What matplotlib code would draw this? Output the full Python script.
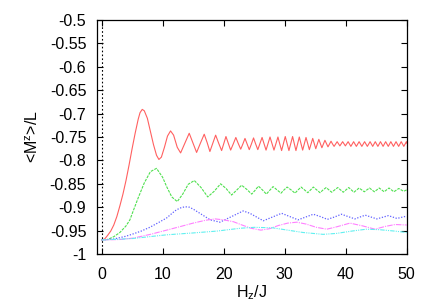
import matplotlib
matplotlib.use("Agg")
import matplotlib.pyplot as plt

plt.rcParams['font.family'] = ['Liberation Sans', 'DejaVu Sans']
plt.rcParams['font.size'] = 11.5
plt.rcParams['mathtext.fontset'] = 'custom'
plt.rcParams['mathtext.rm'] = 'Liberation Sans'
plt.rcParams['mathtext.it'] = 'Liberation Sans:italic'

# values (H_z/J, <M^z>/L)
red_x = [0, 0.5, 1, 1.5, 2, 2.5, 3, 3.5, 4, 4.5, 5, 5.5, 6, 6.3, 6.66, 7.0, 7.5, 8, 8.5, 9, 9.39,
         9.8, 10.3, 10.8, 11.3, 11.8, 12.4, 12.95, 13.65, 14.36, 14.95, 15.57, 16.2, 16.82, 17.3,
         17.75, 18.2,
         18.69, 19.18, 19.67, 20.02, 20.38, 20.77, 21.15, 21.57, 22.0, 22.4,
         22.8, 23.15, 23.5, 23.85, 24.2, 24.55, 24.9, 25.25, 25.6, 25.95,
         26.3, 26.62, 26.95, 27.27, 27.6, 27.92, 28.25, 28.57, 28.9, 29.2,
         29.5, 29.8, 30.1, 30.4, 30.7, 31.0, 31.3, 31.57, 31.85, 32.12,
         32.4, 32.67, 32.95, 33.22, 33.5, 33.77, 34.05, 34.32, 34.6, 34.85,
         35.1, 35.35, 35.6, 35.85, 36.1, 36.35, 36.6, 36.85, 37.1, 37.35,
         37.6, 37.85, 38.1,
         38.6, 39.05, 39.5, 39.95, 40.4, 40.85, 41.3, 41.75, 42.2, 42.65, 43.1, 43.55, 44.0,
         44.43, 44.85, 45.28, 45.7, 46.13, 46.55, 46.98, 47.4, 47.83, 48.25, 48.68, 49.1, 49.53,
         49.95, 50]
red_y = [-0.970, -0.968, -0.960, -0.951, -0.938, -0.920, -0.897, -0.872, -0.843, -0.810, -0.775,
         -0.742, -0.712, -0.698, -0.691, -0.694, -0.710, -0.738, -0.766, -0.789, -0.798,
         -0.793, -0.772, -0.748, -0.737, -0.746, -0.772, -0.784, -0.763, -0.742, -0.762, -0.783,
         -0.763, -0.744, -0.762, -0.781, -0.764,
         -0.746, -0.763, -0.779, -0.764, -0.749, -0.764, -0.778, -0.765, -0.751, -0.764,
         -0.776, -0.765, -0.753, -0.765, -0.777, -0.765, -0.752, -0.765, -0.777, -0.764,
         -0.751, -0.764, -0.778, -0.764, -0.750, -0.764, -0.778, -0.764, -0.750, -0.765,
         -0.779, -0.764, -0.749, -0.764, -0.779, -0.764, -0.749, -0.764, -0.779, -0.765,
         -0.750, -0.764, -0.778, -0.765, -0.751, -0.764, -0.777, -0.765, -0.753, -0.764,
         -0.775, -0.765, -0.755, -0.764, -0.773, -0.765, -0.757, -0.764, -0.771, -0.765,
         -0.759, -0.765, -0.770,
         -0.760, -0.769, -0.760, -0.769, -0.760, -0.770, -0.760, -0.770, -0.760, -0.770,
         -0.760, -0.770, -0.760, -0.770, -0.760, -0.770, -0.760, -0.770, -0.760, -0.770,
         -0.760, -0.770, -0.760, -0.770, -0.760, -0.770, -0.760, -0.763]

green_x = [0, 1, 2, 3, 4, 4.64, 5.18, 6, 7, 8, 9, 10, 10.66, 11.5, 12.4, 13.3, 14.2, 15.2, 16.3,
           17.4, 18.45, 19.5, 20.4, 21.3, 22.1, 22.95, 23.8, 24.6, 25.15, 25.7, 26.35, 27.0,
           27.55, 28.1, 28.75, 29.4, 29.9, 30.4, 31.05, 31.7, 32.2, 32.7, 33.25, 33.8, 34.25,
           34.7, 35.25, 35.8, 36.3, 36.8, 37.7, 38.7, 39.6, 40.5, 41.35, 42.2, 43.05, 43.9,
           44.7, 45.5, 46.3, 47.1, 47.9, 48.7, 49.5, 50]
green_y = [-0.970, -0.969, -0.963, -0.954, -0.940, -0.927, -0.908, -0.880, -0.848, -0.824, -0.817,
           -0.836, -0.856, -0.878, -0.888, -0.872, -0.851, -0.843, -0.858, -0.878, -0.866, -0.850,
           -0.860, -0.874, -0.864, -0.853, -0.862, -0.872, -0.864, -0.855, -0.863, -0.872,
           -0.864, -0.856, -0.863, -0.870, -0.863, -0.857, -0.863, -0.870, -0.863, -0.857,
           -0.863, -0.869, -0.863, -0.857, -0.863, -0.869, -0.863, -0.858, -0.868, -0.858,
           -0.868, -0.858, -0.868, -0.859, -0.867, -0.859, -0.867, -0.859, -0.867, -0.859,
           -0.867, -0.860, -0.866, -0.863]

blue_x = [0, 2, 4, 5.18, 6.5, 7.9, 9.3, 10.66, 12, 12.8, 13.66, 14.4, 15, 16.1, 17.8, 19.4, 21.3,
          23.2, 24.3, 26.5, 28, 29.5, 30.85, 32.2, 33.45, 34.7, 35.85, 37.0, 38.15, 39.3, 40.4,
          41.5, 43.2, 45.1, 47.0, 48.4, 50]
blue_y = [-0.970, -0.968, -0.962, -0.957, -0.951, -0.943, -0.933, -0.923, -0.908, -0.902, -0.899,
          -0.900, -0.904, -0.913, -0.927, -0.932, -0.920, -0.908, -0.913, -0.929, -0.921, -0.913,
          -0.920, -0.927, -0.921, -0.915, -0.920, -0.926, -0.921, -0.915, -0.920, -0.925, -0.917,
          -0.925, -0.918, -0.924, -0.919]

magenta_x = [0, 3, 5.18, 8, 10.66, 13, 15, 17, 18.6, 20, 21.6, 23, 24.5, 26.1, 27.5, 29, 30.5,
             32, 33.5, 35.2, 36.9, 38.5, 40.7, 42.8, 44.8, 46.5, 48.1, 50]
magenta_y = [-0.970, -0.969, -0.966, -0.958, -0.949, -0.941, -0.934, -0.928, -0.925, -0.927,
             -0.931, -0.938, -0.945, -0.949, -0.946, -0.939, -0.934, -0.932, -0.936, -0.943,
             -0.947, -0.942, -0.934, -0.940, -0.947, -0.941, -0.937, -0.938]

cyan_x = [0, 5, 10.66, 15, 18.9, 22.7, 25, 28, 30.5, 33, 36.3, 38.5, 41, 43.4, 45.5, 48, 50]
cyan_y = [-0.970, -0.967, -0.959, -0.955, -0.951, -0.945, -0.943, -0.944, -0.949, -0.954,
          -0.958, -0.956, -0.951, -0.947, -0.948, -0.951, -0.954]

yticks = [-1, -0.95, -0.9, -0.85, -0.8, -0.75, -0.7, -0.65, -0.6, -0.55, -0.5]
ytick_labels = ['-1', '-0.95', '-0.9', '-0.85', '-0.8', '-0.75', '-0.7', '-0.65', '-0.6', '-0.55', '-0.5']
xticks = [0, 10, 20, 30, 40, 50]

fig = plt.figure(figsize=(4.36, 3.05), dpi=100)
ax = fig.add_axes([0.2218, 0.1672, 0.711, 0.7672])

ax.axvline(0, color='black', lw=0.8, ls=(0, (1.5, 2)))
ax.plot(red_x, red_y, color='#ff6060', lw=0.8, ls='-')
ax.plot(green_x, green_y, color='#50e050', lw=0.8, ls=(0, (2.5, 1)))
ax.plot(blue_x, blue_y, color='#6060ff', lw=0.9, ls=(0, (1, 1.3)))
ax.plot(magenta_x, magenta_y, color='#ff80ff', lw=0.8, ls=(0, (5, 1, 1, 1)))
ax.plot(cyan_x, cyan_y, color='#60f0f0', lw=0.8, ls=(0, (4, 1, 1, 1, 1, 1)))

ax.set_xlim(-0.8, 50)
ax.set_ylim(-1, -0.5)
ax.set_xticks(xticks)
ax.set_yticks(yticks)
ax.set_yticklabels(ytick_labels)
ax.tick_params(direction='in', length=4, top=True, right=True, width=0.8)
ax.tick_params(axis='x', pad=9)
ax.tick_params(axis='y', pad=7.5)
for s in ax.spines.values():
    s.set_linewidth(0.9)

ax.set_xlabel(r'H$_{\mathrm{z}}$/J', labelpad=1)
ax.set_ylabel(r'<M$^{\mathrm{z}}$>/L', labelpad=6)

plt.savefig("out.png", dpi=100)
